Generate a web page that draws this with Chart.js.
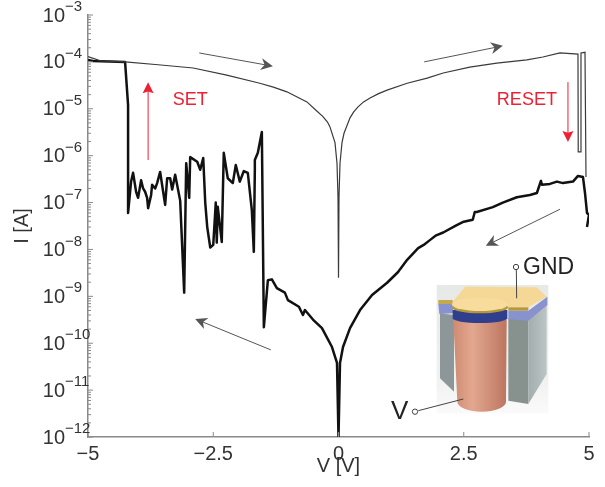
<!DOCTYPE html>
<html>
<head>
<meta charset="utf-8">
<style>
html, body { margin: 0; padding: 0; background: #fff; }
canvas { display: block; filter: blur(0.35px); }
</style>
<script src="https://cdn.jsdelivr.net/npm/chart.js@4/dist/chart.umd.js"></script>
</head>
<body>
<canvas id="chart" width="605" height="487"></canvas>
<script>
// forward sweep, thin line
const forwardV = [-5, -4.75, -4.26, -3.6, -2.9, -2.23, -1.57, -1.3, -1.03, -0.63, -0.45, -0.31, -0.22, -0.17, -0.07, -0.03, -0.01, 0, 0.01, 0.03, 0.07, 0.11, 0.23, 0.3, 0.39, 0.5, 0.63, 0.8, 0.97, 1.37, 1.77, 2.09, 2.62, 3.16, 3.76, 4.08, 4.42, 4.78, 4.785, 4.84, 4.84, 4.92, 4.94]
const forwardI = [1.3e-4, 1.05e-4, 1e-4, 8.7e-5, 7.4e-5, 5.2e-5, 3.5e-5, 2.9e-5, 2.3e-5, 1.4e-5, 9.3e-6, 6.8e-6, 5.2e-6, 4.1e-6, 1.9e-6, 6.9e-7, 1.3e-7, 2.5e-9, 1.3e-7, 6.9e-7, 1.9e-6, 3e-6, 6.4e-6, 8.5e-6, 1.1e-5, 1.4e-5, 1.7e-5, 2.1e-5, 2.5e-5, 3.5e-5, 4.5e-5, 5.8e-5, 7.7e-5, 9.4e-5, 1.1e-4, 1.27e-4, 1.55e-4, 1.47e-4, 1.2e-6, 1.2e-6, 1.55e-4, 1.6e-4, 3.5e-7]

// return sweep, thick line, right to left
const returnV = [4.96, 5, 4.96, 4.92, 4.88, 4.78, 4.68, 4.48, 4.36, 4.22, 4.06, 4.04, 3.96, 3.82, 3.56, 3.28, 3.08, 2.76, 2.72, 2.68, 2.5, 2.36, 2.09, 1.95, 1.83, 1.7, 1.59, 1.37, 1.23, 1.19, 0.97, 0.67, 0.43, 0.23, 0.09, 0.03, 0, -0.03, -0.13, -0.33, -0.51, -0.67, -0.71, -0.79, -1.01, -1.07, -1.23, -1.33, -1.41, -1.49, -1.53, -1.61, -1.67, -1.67, -1.69, -1.73, -1.81, -1.89, -1.97, -2.05, -2.11, -2.21, -2.29, -2.33, -2.41, -2.43, -2.45, -2.47, -2.5, -2.56, -2.62, -2.66, -2.7, -2.76, -2.82, -2.96, -2.98, -3.04, -3.08, -3.16, -3.26, -3.32, -3.36, -3.42, -3.46, -3.5, -3.56, -3.62, -3.66, -3.72, -3.74, -3.8, -3.82, -3.86, -3.9, -3.94, -4, -4.04, -4.1, -4.14, -4.2, -4.2, -4.26, -4.9, -5]
const returnI = [3e-8, 5.5e-8, 6e-8, 1.6e-7, 3.5e-7, 3.7e-7, 2.8e-7, 2.6e-7, 2.8e-7, 2.5e-7, 2.4e-7, 2.9e-7, 1.6e-7, 1.45e-7, 1.3e-7, 1e-7, 8e-8, 6.3e-8, 6.3e-8, 4.3e-8, 3.9e-8, 3.3e-8, 2.3e-8, 2e-8, 1.6e-8, 1.25e-8, 1.07e-8, 6e-9, 3.8e-9, 3.3e-9, 1.95e-9, 1.07e-9, 5.1e-10, 2.1e-10, 8.3e-11, 3.8e-11, 1e-12, 3.8e-11, 8.3e-11, 2.1e-10, 3.2e-10, 5.1e-10, 4e-10, 6e-10, 8.3e-10, 1.2e-9, 1.5e-9, 2.3e-9, 2.2e-9, 2.2e-10, 3.2e-6, 1.15e-6, 8.1e-7, 5e-7, 8.9e-9, 6.9e-8, 4.3e-7, 4.7e-7, 2.8e-7, 6.3e-7, 2.6e-7, 3.3e-7, 1.15e-6, 1.45e-8, 8.1e-8, 1.4e-8, 1e-7, 4.3e-8, 1.25e-8, 1.1e-8, 3e-8, 1e-7, 8.9e-7, 5e-7, 7.4e-7, 9.3e-7, 1.26e-7, 6.9e-7, 1.2e-9, 1.1e-7, 3.9e-7, 1.9e-7, 3.3e-7, 3.3e-7, 8.9e-8, 1.7e-7, 4.5e-7, 2.6e-7, 2e-7, 2.4e-7, 1.45e-7, 7.6e-8, 1.26e-7, 1.7e-7, 2e-7, 3e-7, 1.26e-7, 1.7e-7, 4.3e-7, 2.8e-7, 6e-8, 1.2e-5, 1e-4, 1.05e-4, 1.1e-4]

const xTicks = [-5, -2.5, 0, 2.5, 5]
const xTickLabels = ['\u22125', '\u22122.5', '0', '2.5', '5']
const yExponents = [-3, -4, -5, -6, -7, -8, -9, -10, -11, -12]

// arrows as [V from, I from, V to, I to]
const blackArrows = [
    [-2.78, 1.55e-4, -1.31, 8.1e-5],
    [1.71, 1e-4, 3.28, 2.2e-4],
    [4.42, 7.2e-8, 2.94, 1.2e-8],
    [-1.35, 7.2e-11, -2.86, 3.3e-10]
]
const redArrows = [
    [-3.8, 8.1e-7, -3.8, 3.7e-5],
    [4.58, 3.7e-5, 4.58, 1.95e-6]
]
const redLabels = [['SET', -2.96, 1.55e-5], ['RESET', 3.76, 1.55e-5]]

function toPoints(xs, ys) {
    return xs.map((x, i) => ({ x: x, y: ys[i] }))
}

function drawArrow(ctx, x, y, a, color, width, head, swept) {
    const x0 = x.getPixelForValue(a[0]), y0 = y.getPixelForValue(a[1])
    const x1 = x.getPixelForValue(a[2]), y1 = y.getPixelForValue(a[3])
    const ang = Math.atan2(y1 - y0, x1 - x0)
    ctx.save()
    ctx.strokeStyle = color
    ctx.fillStyle = color
    ctx.lineWidth = width
    ctx.beginPath()
    ctx.moveTo(x0, y0)
    ctx.lineTo(x1 - Math.cos(ang) * 4, y1 - Math.sin(ang) * 4)
    ctx.stroke()
    ctx.translate(x1, y1)
    ctx.rotate(ang)
    ctx.beginPath()
    ctx.moveTo(0, 0)
    ctx.lineTo(-head, -head * 0.5)
    ctx.lineTo(-head * swept, 0)
    ctx.lineTo(-head, head * 0.5)
    ctx.closePath()
    ctx.fill()
    ctx.restore()
}

// the little device sketch, drawn in a 3x coordinate box
function drawDevice(ctx) {
    function poly(pts, fill) {
        ctx.fillStyle = fill
        ctx.beginPath()
        pts.forEach((p, i) => i ? ctx.lineTo(p[0], p[1]) : ctx.moveTo(p[0], p[1]))
        ctx.closePath()
        ctx.fill()
    }
    ctx.save()
    ctx.translate(380, 250)
    ctx.scale(1 / 3, 1 / 3)

    let bg = ctx.createLinearGradient(0, 105, 0, 490)
    bg.addColorStop(0, '#e6e9e6')
    bg.addColorStop(0.75, '#f0f2f0')
    bg.addColorStop(1, '#fafafa')
    ctx.fillStyle = bg
    ctx.fillRect(170, 105, 335, 385)

    poly([[180, 190], [222, 195], [222, 425], [180, 385]], '#8d9799')
    poly([[385, 205], [445, 210], [445, 462], [385, 452]], '#87928f')
    let side = ctx.createLinearGradient(445, 0, 500, 0)
    side.addColorStop(0, '#a3adad')
    side.addColorStop(1, '#bcc5c6')
    ctx.fillStyle = side
    ctx.beginPath()
    ctx.moveTo(445, 208)
    ctx.lineTo(500, 155)
    ctx.lineTo(500, 372)
    ctx.lineTo(445, 462)
    ctx.closePath()
    ctx.fill()

    poly([[385, 182], [445, 182], [502, 140], [502, 165], [445, 212], [385, 208]], '#8792cf')
    poly([[175, 162], [218, 162], [220, 190], [178, 192]], '#8792cf')

    let copper = ctx.createLinearGradient(220, 0, 380, 0)
    copper.addColorStop(0, '#cf8a72')
    copper.addColorStop(0.35, '#e2a88f')
    copper.addColorStop(1, '#bd7560')
    ctx.fillStyle = copper
    ctx.beginPath()
    ctx.moveTo(220, 210)
    ctx.lineTo(232, 455)
    ctx.ellipse(305, 455, 73, 30, 0, Math.PI, 0, true)
    ctx.lineTo(380, 210)
    ctx.closePath()
    ctx.fill()

    ctx.fillStyle = '#2f3f8e'
    ctx.beginPath()
    ctx.moveTo(218, 180)
    ctx.lineTo(218, 205)
    ctx.ellipse(300, 205, 82, 14, 0, Math.PI, 0, true)
    ctx.lineTo(382, 180)
    ctx.closePath()
    ctx.fill()

    poly([[255, 110], [470, 112], [500, 140], [445, 172], [385, 172], [300, 180], [215, 160]], '#f6d896')
    poly([[385, 172], [445, 172], [445, 182], [385, 182]], '#b2983a')
    poly([[175, 150], [218, 150], [218, 162], [175, 162]], '#c4a94e')
    ctx.fillStyle = '#b2983a'
    ctx.beginPath()
    ctx.ellipse(300, 172, 84, 18, 0, 0, Math.PI * 2)
    ctx.fill()
    ctx.fillStyle = '#f8dc9e'
    ctx.beginPath()
    ctx.ellipse(300, 163, 84, 20, 0, 0, Math.PI * 2)
    ctx.fill()

    // leads
    ctx.strokeStyle = '#444'
    ctx.lineWidth = 3
    ctx.beginPath()
    ctx.moveTo(409, 60)
    ctx.lineTo(410, 145)
    ctx.moveTo(115, 482)
    ctx.lineTo(250, 447)
    ctx.stroke()
    ctx.beginPath()
    ctx.arc(408, 51, 8, 0, Math.PI * 2)
    ctx.moveTo(113, 485)
    ctx.arc(105, 485, 8, 0, Math.PI * 2)
    ctx.stroke()
    ctx.restore()

    ctx.fillStyle = '#222'
    ctx.textAlign = 'left'
    ctx.textBaseline = 'middle'
    ctx.font = '23px "Liberation Sans"'
    ctx.fillText('GND', 523, 268)
    ctx.font = '26px "Liberation Sans"'
    ctx.fillText('V', 391, 412)
}

const decorations = {
    id: 'decorations',
    afterDraw(chart) {
        const ctx = chart.ctx
        const x = chart.scales.x, y = chart.scales.y
        const area = chart.chartArea

        // inward ticks
        ctx.save()
        ctx.strokeStyle = '#8a8a8a'
        ctx.lineWidth = 1
        ctx.beginPath()
        yExponents.forEach(e => {
            const py = y.getPixelForValue(Math.pow(10, e))
            ctx.moveTo(area.left, py)
            ctx.lineTo(area.left + 5, py)
        })
        yExponents.slice(1).forEach(e => {
            for (let m = 2; m < 10; m++) {
                const py = y.getPixelForValue(m * Math.pow(10, e))
                ctx.moveTo(area.left, py)
                ctx.lineTo(area.left + 3, py)
            }
        })
        xTicks.forEach(t => {
            const px = x.getPixelForValue(t)
            ctx.moveTo(px, area.bottom)
            ctx.lineTo(px, area.bottom - 5)
        })
        ctx.stroke()
        ctx.restore()

        // y tick labels with raised exponents
        ctx.save()
        ctx.fillStyle = '#333'
        ctx.textBaseline = 'middle'
        yExponents.forEach(e => {
            const py = y.getPixelForValue(Math.pow(10, e))
            ctx.textAlign = 'right'
            ctx.font = '20px "Liberation Sans"'
            ctx.fillText('10', 65, py + 1)
            ctx.textAlign = 'left'
            ctx.font = '15px "Liberation Sans"'
            ctx.fillText('\u2212' + Math.abs(e), 65, py - 8)
        })
        ctx.restore()

        blackArrows.forEach(a => drawArrow(ctx, x, y, a, '#555', 1, 12, 0.7))
        redArrows.forEach(a => drawArrow(ctx, x, y, a, '#ee2033', 1, 11, 0.85))

        ctx.save()
        ctx.fillStyle = '#ee2033'
        ctx.font = '18px "Liberation Sans"'
        ctx.textAlign = 'center'
        ctx.textBaseline = 'middle'
        redLabels.forEach(l => ctx.fillText(l[0], x.getPixelForValue(l[1]), y.getPixelForValue(l[2])))
        ctx.restore()

        drawDevice(ctx)
    }
}

new Chart(document.getElementById('chart'), {
    type: 'scatter',
    data: {
        datasets: [
            {
                label: 'forward',
                data: toPoints(forwardV, forwardI),
                showLine: true,
                borderColor: '#3a3a3a',
                borderWidth: 1.2,
                pointRadius: 0,
                tension: 0
            },
            {
                label: 'return',
                data: toPoints(returnV, returnI),
                showLine: true,
                borderColor: '#111',
                borderWidth: 2.5,
                borderJoinStyle: 'round',
                pointRadius: 0,
                tension: 0
            }
        ]
    },
    options: {
        responsive: false,
        animation: false,
        layout: { padding: { top: 15, right: 16, left: 0, bottom: 9 } },
        plugins: { legend: { display: false }, tooltip: { enabled: false } },
        scales: {
            x: {
                type: 'linear',
                min: -5,
                max: 5,
                afterBuildTicks: s => { s.ticks = xTicks.map(v => ({ value: v })) },
                afterFit: s => { s.height = 41 },
                grid: { display: false, drawTicks: false },
                border: { color: '#8a8a8a', width: 1.5 },
                ticks: {
                    autoSkip: false,
                    maxRotation: 0,
                    padding: 5,
                    color: '#333',
                    font: { family: '"Liberation Sans"', size: 20 },
                    callback: (v) => xTickLabels[xTicks.indexOf(v)]
                },
                title: {
                    display: true,
                    text: 'V [V]',
                    color: '#333',
                    font: { family: '"Liberation Sans"', size: 20 },
                    padding: { top: 0, bottom: 0 }
                }
            },
            y: {
                type: 'logarithmic',
                min: 1e-12,
                max: 1e-3,
                afterBuildTicks: s => { s.ticks = yExponents.map(e => ({ value: Math.pow(10, e) })) },
                afterFit: s => { s.width = 88 },
                grid: { display: false, drawTicks: false },
                border: { color: '#8a8a8a', width: 1.5 },
                ticks: { display: false },
                title: {
                    display: true,
                    text: 'I [A]',
                    color: '#333',
                    font: { family: '"Liberation Sans"', size: 20 },
                    padding: { top: 10, bottom: 0 }
                }
            }
        }
    },
    plugins: [decorations]
})
</script>
</body>
</html>
